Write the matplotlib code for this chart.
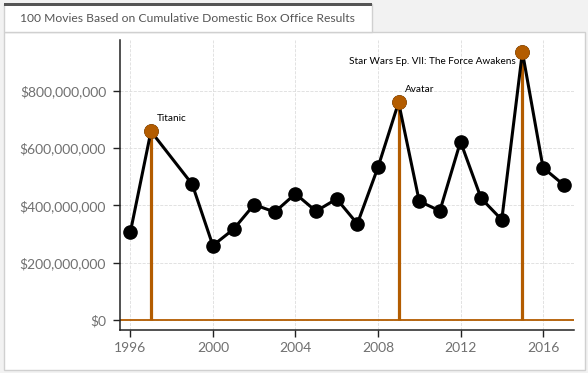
import matplotlib.pyplot as plt
import matplotlib.patches as mpatches
from matplotlib.ticker import FuncFormatter

plt.rcParams['font.family'] = ['Lato', 'DejaVu Sans']

# top grossing domestic release per year (1998 missing in source)
years = [1996, 1997, 1999, 2000, 2001, 2002, 2003, 2004, 2005, 2006, 2007,
         2008, 2009, 2010, 2011, 2012, 2013, 2014, 2015, 2016, 2017]
gross = [306, 659, 474, 260, 317, 403, 377, 441, 380, 423, 336,
         533, 760, 415, 381, 623, 425, 350, 936, 532, 472]
gross = [g * 1e6 for g in gross]

highlight_years = [1997, 2009, 2015]
highlight_names = ['Titanic', 'Avatar', 'Star Wars Ep. VII: The Force Awakens']

ORANGE = '#b35c00'
W, H = 588, 373

fig = plt.figure(figsize=(W / 100, H / 100), dpi=100, facecolor='#f2f2f2')

# panel + tab, in pixel coords (behind the axes)
def px_rect(x, y, w, h, **kw):
    r = mpatches.Rectangle((x / W, 1 - (y + h) / H), w / W, h / H,
                           transform=fig.transFigure, zorder=-5, **kw)
    fig.patches.append(r)

px_rect(3.5, 31.5, 581, 338, facecolor='white', edgecolor='#d0d0d0', linewidth=1)
px_rect(3.5, 4, 368.5, 28, facecolor='white', edgecolor='#d0d0d0', linewidth=1)
px_rect(3.5, 3, 368.5, 2.5, facecolor='#555555', edgecolor='none')
fig.text(20 / W, 1 - 18 / H, '100 Movies Based on Cumulative Domestic Box Office Results',
         fontsize=8.7, color='#555555', va='center', ha='left')

ax = fig.add_axes([120 / W, 1 - 330 / H, 454 / W, 290 / H])
ax.set_facecolor('none')

ax.axhline(0, color=ORANGE, linewidth=1.3, zorder=2)
for yr in highlight_years:
    v = gross[years.index(yr)]
    ax.plot([yr, yr], [0, v], color=ORANGE, linewidth=2.3, zorder=3,
            solid_capstyle='butt')

ax.plot(years, gross, color='black', linewidth=2.2, marker='o', markersize=9.5, zorder=4)

for yr in highlight_years:
    v = gross[years.index(yr)]
    ax.plot([yr], [v], 'o', color=ORANGE, markersize=9.5, zorder=5)

ax.text(1997 + 0.3, gross[years.index(1997)] + 28e6, highlight_names[0],
        fontsize=7.2, ha='left', va='bottom')
ax.text(2009 + 0.3, gross[years.index(2009)] + 28e6, highlight_names[1],
        fontsize=7.2, ha='left', va='bottom')
ax.text(2015 - 0.3, gross[years.index(2015)] - 18e6, highlight_names[2],
        fontsize=7.2, ha='right', va='top')

ax.set_xlim(1995.5, 2017.5)
ax.set_ylim(-35e6, 978e6)
ax.set_xticks([1996, 2000, 2004, 2008, 2012, 2016])
ax.set_yticks([0, 200e6, 400e6, 600e6, 800e6])
ax.yaxis.set_major_formatter(FuncFormatter(lambda v, p: '${:,.0f}'.format(v)))

ax.grid(True, color='#dddddd', linestyle='--', linewidth=0.6, zorder=0)
ax.set_axisbelow(True)
for s in ['top', 'right']:
    ax.spines[s].set_visible(False)
for s in ['left', 'bottom']:
    ax.spines[s].set_color('#222222')
    ax.spines[s].set_linewidth(1.1)
ax.tick_params(axis='both', colors='#222222', length=5, width=1, labelsize=10,
               labelcolor='#707070')
ax.tick_params(axis='y', pad=5)

fig.savefig('out.png', dpi=100, facecolor=fig.get_facecolor())
